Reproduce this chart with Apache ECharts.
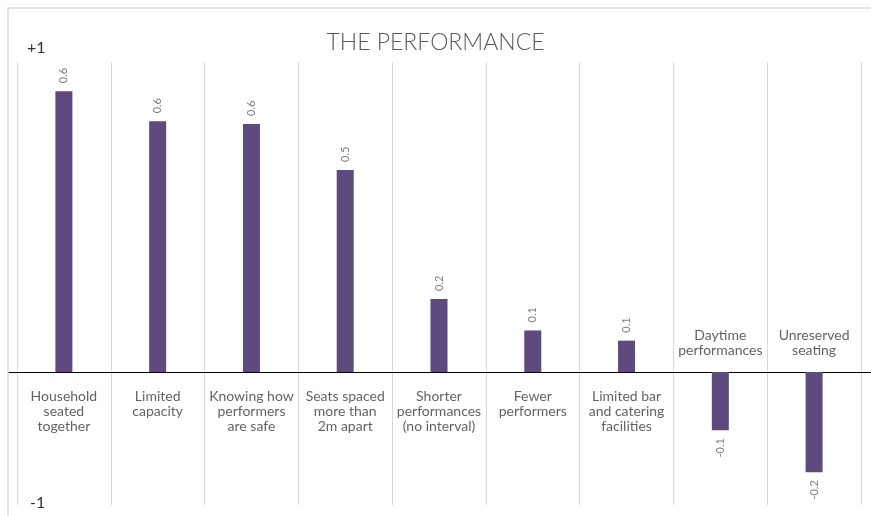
<!DOCTYPE html>
<html>
<head>
<meta charset="utf-8">
<script src="https://cdn.jsdelivr.net/npm/echarts@6/dist/echarts.min.js"></script>
<style>
  html, body { margin: 0; padding: 0; background: #fff; }
  #chart { width: 871px; height: 516px; }
</style>
</head>
<body>
<div id="chart"></div>
<script>
// Net preference score for each change to the performance experience
const categories = [
  'Household\nseated\ntogether',
  'Limited\ncapacity',
  'Knowing how\nperformers\nare safe',
  'Seats spaced\nmore than\n2m apart',
  'Shorter\nperformances\n(no interval)',
  'Fewer\nperformers',
  'Limited bar\nand catering\nfacilities',
  'Daytime\nperformances',
  'Unreserved\nseating'
];
const scores = [0.634, 0.566, 0.560, 0.456, 0.165, 0.094, 0.071, -0.131, -0.226];
const scaleEndLabels = ['+1', '-1'];
const titleText = 'THE PERFORMANCE';

const BAR = '#5d4a7e';
const FONT = 'Lato, "Open Sans", sans-serif';

const chart = echarts.init(document.getElementById('chart'), null, { renderer: 'canvas' });

// value labels run upward from the end of each bar
const barData = scores.map(v => ({
  value: v,
  label: v >= 0
    ? { position: 'top', align: 'left', distance: 8 }
    : { position: 'bottom', align: 'right', distance: 8 }
}));

// category names sit on the opposite side of the baseline from their bar
const nameAnchors = scores.map((v, i) => ({
  value: [i, 0],
  label: {
    position: v >= 0 ? 'bottom' : 'top',
    distance: v >= 0 ? 17 : 14
  }
}));

chart.setOption({
  animation: false,
  title: {
    text: titleText,
    left: 'center',
    top: 26,
    textStyle: { fontFamily: FONT, fontWeight: 300, fontSize: 23, color: '#595959' }
  },
  grid: [
    { left: 17, right: 10, top: 62, bottom: 11 },
    { left: 9, right: 0, top: 62, bottom: 11 }
  ],
  xAxis: [
    {
      type: 'category',
      gridIndex: 0,
      data: categories,
      axisLine: { show: false },
      axisTick: { show: false },
      axisLabel: { show: false, interval: 0 },
      splitLine: { show: true, interval: 0, lineStyle: { color: '#d9d9d9', width: 1 } }
    },
    {
      type: 'value',
      gridIndex: 1,
      min: 0,
      max: 1,
      axisLine: { show: true, onZero: true, lineStyle: { color: '#000', width: 1 } },
      axisTick: { show: false },
      axisLabel: { show: false },
      splitLine: { show: false }
    }
  ],
  yAxis: [
    {
      type: 'value',
      gridIndex: 0,
      min: -0.3,
      max: 0.7,
      show: false,
      splitLine: { show: false }
    },
    {
      type: 'value',
      gridIndex: 1,
      min: -0.3,
      max: 0.7,
      show: false,
      splitLine: { show: false }
    }
  ],
  graphic: [
    // frame
    {
      type: 'polyline',
      shape: { points: [[8, 516], [8, 8], [871, 8]] },
      style: { stroke: '#dcdcdc', lineWidth: 1.5, fill: null },
      z: 0
    },
    {
      type: 'text', left: 27, top: 40,
      style: { text: scaleEndLabels[0], font: '16px ' + FONT, fill: '#333' }
    },
    {
      type: 'text', left: 30, top: 495,
      style: { text: scaleEndLabels[1], font: '16px ' + FONT, fill: '#333' }
    }
  ],
  series: [
    {
      type: 'bar',
      xAxisIndex: 0,
      yAxisIndex: 0,
      data: barData,
      barWidth: 17,
      itemStyle: { color: BAR },
      label: {
        show: true,
        rotate: 90,
        verticalAlign: 'middle',
        fontFamily: FONT,
        fontSize: 11,
        color: '#7f7f7f',
        formatter: p => p.value.toFixed(1)
      }
    },
    {
      type: 'scatter',
      xAxisIndex: 0,
      yAxisIndex: 0,
      data: nameAnchors,
      symbolSize: 0,
      silent: true,
      label: {
        show: true,
        fontFamily: FONT,
        fontSize: 14,
        lineHeight: 15,
        color: '#3a3a3a',
        align: 'center',
        formatter: p => categories[p.dataIndex]
      },
      z: 5
    }
  ]
});
</script>
</body>
</html>
